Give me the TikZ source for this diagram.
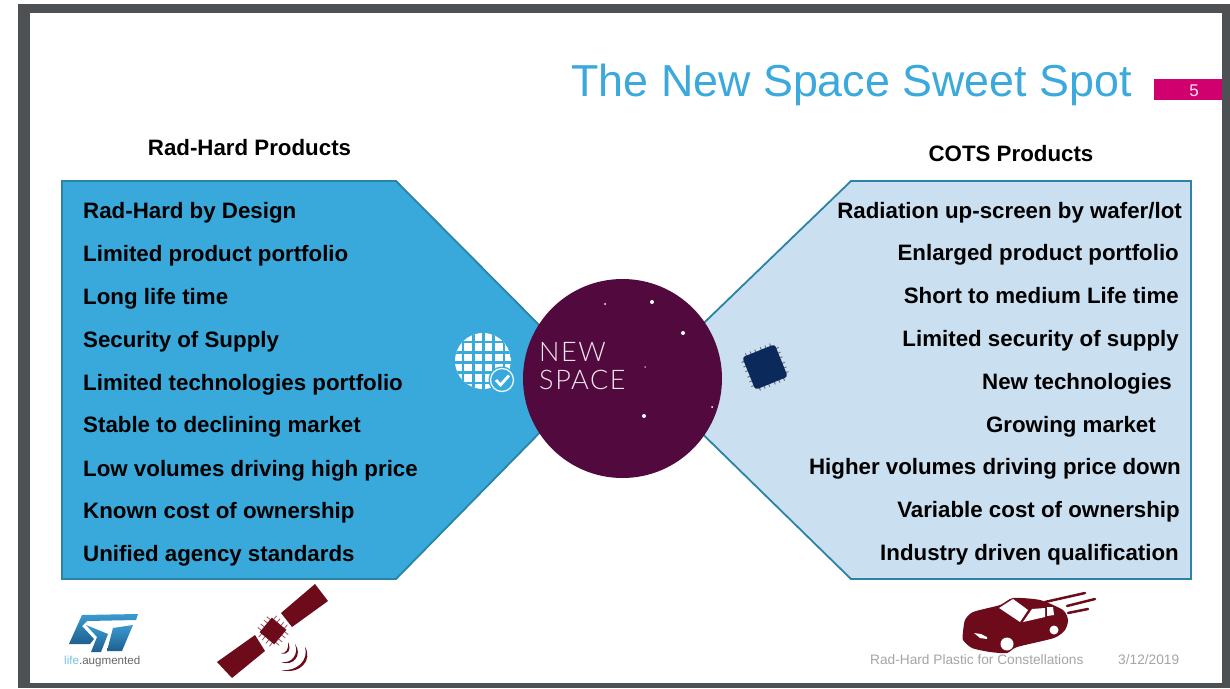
\documentclass[tikz,border=0pt]{standalone}
\usepackage{fontspec}
\setmainfont{Liberation Sans}
\newfontfamily\nsfont[LetterSpace=6]{Lato Light}
\definecolor{frame}{HTML}{4D5154}
\definecolor{blueL}{HTML}{39A9DC}
\definecolor{blueR}{HTML}{CADFF0}
\definecolor{edge}{HTML}{2B83A6}
\definecolor{plum}{HTML}{520A3E}
\definecolor{maroon}{HTML}{6E0B1A}
\definecolor{pinkbar}{HTML}{D0006F}
\definecolor{titleblue}{HTML}{3BA9DC}
\definecolor{footgray}{HTML}{A5A5A5}
\definecolor{navy}{HTML}{0B2A5B}
\definecolor{stdark}{HTML}{1F5F8F}
\definecolor{stlight}{HTML}{3A9BD0}
\tikzset{
  x=1pt,y=-1pt,
  ltxt/.style={anchor=base west,yshift=-8pt,inner sep=0pt,font=\fontsize{22.3}{24}\selectfont\bfseries,text=black},
  rtxt/.style={anchor=base east,yshift=-8pt,inner sep=0pt,font=\fontsize{22.3}{24}\selectfont\bfseries,text=black},
  head/.style={anchor=base,yshift=-8pt,inner sep=0pt,font=\fontsize{22.3}{24}\selectfont\bfseries,text=black},
  foot/.style={anchor=west,inner sep=0pt,font=\fontsize{13.7}{15}\selectfont,text=footgray},
  panel/.style={draw=edge,line width=1.8pt,line join=miter},
  star/.style={circle,fill=white,inner sep=0pt},
}
\begin{document}
\begin{tikzpicture}
\useasboundingbox (0,0) rectangle (1230,688);
\fill[white] (0,0) rectangle (1230,688);
\fill[frame] (18,4) rectangle (1230,688);
\fill[white] (30,13) rectangle (1222,683);
% panels
\draw[panel,fill=blueL] (62,181) -- (396,181) -- (560,346) -- (560,412) -- (396,579) -- (62,579) -- cycle;
\draw[panel,fill=blueR] (1191,181) -- (851,181) -- (680,346) -- (680,412) -- (851,579) -- (1191,579) -- cycle;
% circle
\node[circle,fill=plum,minimum size=199pt,inner sep=0pt] (ns) at (622.5,378.5) {};
\node[anchor=west,inner sep=0pt,align=left,text=white!90!plum,font=\nsfont\fontsize{27}{28}\selectfont] (nstxt) at (539,366) {NEW\\[-0.5pt]SPACE};
\node[star,minimum size=4pt] (s1) at (652,302) {};
\node[star,minimum size=2pt] (s2) at (605,304) {};
\node[star,minimum size=4pt] (s3) at (683,333) {};
\node[star,minimum size=1.5pt] (s4) at (645,367) {};
\node[star,minimum size=4pt] (s5) at (644,416) {};
\node[star,minimum size=2pt] (s6) at (712,407) {};
% title
\node[anchor=east,inner sep=0pt,text=titleblue,font=\fontsize{44.8}{50}\selectfont] (title) at (1132,85) {The New Space Sweet Spot};
\fill[pinkbar] (1154,79) rectangle (1222,100);
\node[anchor=center,inner sep=0pt,text=white!90!pinkbar,font=\fontsize{17}{18}\selectfont] (num) at (1194,91) {5};
% headings
\node[head] (hl) at (249.5,147) {Rad-Hard Products};
\node[head] (hr) at (1011,153) {COTS Products};
% left list
\node[ltxt] (l1) at (83,210) {Rad-Hard by Design};
\node[ltxt] (l2) at (83,253) {Limited product portfolio};
\node[ltxt] (l3) at (83,296) {Long life time};
\node[ltxt] (l4) at (83,339) {Security of Supply};
\node[ltxt] (l5) at (83,382) {Limited technologies portfolio};
\node[ltxt] (l6) at (83,424) {Stable to declining market};
\node[ltxt] (l7) at (83,468) {Low volumes driving high price};
\node[ltxt] (l8) at (83,510) {Known cost of ownership};
\node[ltxt] (l9) at (83,553) {Unified agency standards};
% right list
\node[rtxt] (r1) at (1182,210) {Radiation up-screen by wafer/lot};
\node[rtxt] (r2) at (1179,252.5) {Enlarged product portfolio};
\node[rtxt] (r3) at (1179,295) {Short to medium Life time};
\node[rtxt] (r4) at (1179,338) {Limited security of supply};
\node[rtxt] (r5) at (1172,381) {New technologies};
\node[rtxt] (r6) at (1156,424) {Growing market};
\node[rtxt] (r7) at (1181,466) {Higher volumes driving price down};
\node[rtxt] (r8) at (1180,509) {Variable cost of ownership};
\node[rtxt] (r9) at (1179,552) {Industry driven qualification};
% wafer icon
\begin{scope}
\clip (483,361) circle (28);
\fill[white] (483,361) circle (28);
\foreach \k in {0,...,6}{
  \draw[blueL,line width=2.6pt] (452.9+\k*10.2,330) -- (452.9+\k*10.2,392);
  \draw[blueL,line width=2.6pt] (450,331.9+\k*10.2) -- (516,331.9+\k*10.2);
}
\end{scope}
\fill[blueL] (502,380) circle (13.5);
\draw[white!90!blueL,line width=1.3pt] (502,380) circle (11.5);
\draw[white,line width=2.8pt] (496,380) -- (500.5,385) -- (509,375.5);
% chip icon
\begin{scope}[shift={(765,367)},rotate=22]
\foreach \k in {-13,-8,-3,3,8,13}{
  \draw[black!60,line width=0.9pt] (\k,-20) -- (\k,20);
  \draw[black!60,line width=0.9pt] (-20,\k) -- (20,\k);
}
\fill[navy,rounded corners=3pt] (-17.5,-17.5) rectangle (17.5,17.5);
\end{scope}
% ST logo
\shade[bottom color=stdark,top color=stlight] (82,615) -- (138,614) -- (136,620) -- (87,621) -- (82,626) -- (94,639) -- (90,644) -- (69,644) -- cycle;
\shade[bottom color=stdark,top color=stlight] (86,625) -- (108,634) -- (101,652) -- (91,652) -- (97,637) -- cycle;
\shade[bottom color=stdark,top color=stlight] (113,628) -- (133,625) -- (122,651) -- (107,651) -- cycle;
\node[anchor=west,inner sep=0pt,font=\fontsize{11.6}{13}\selectfont,text=black!60] (st) at (64,661) {\textcolor{blueL!70}{life}.augmented};
% satellite
\fill[maroon] (315,584) -- (328,601) -- (292,627) -- (281,613) -- cycle;
\fill[maroon] (255,635) -- (265,651) -- (232,678) -- (217,662) -- cycle;
\begin{scope}[shift={(273,631)},rotate=-40]
\foreach \k in {-7,-2.5,2.5,7}{
  \draw[maroon!70,line width=0.8pt] (\k,-14) -- (\k,14);
  \draw[maroon!70,line width=0.8pt] (-14,\k) -- (14,\k);
}
\fill[maroon] (-9.5,-9.5) rectangle (9.5,9.5);
\end{scope}
\fill[maroon] (305,647) .. controls (313,660) and (300,675) .. (281,670) .. controls (297,672) and (309,660) .. cycle;
\fill[maroon] (295,644) .. controls (303,655) and (293,667) .. (281,662) .. controls (292,664) and (299,654) .. cycle;
\fill[maroon] (288,642) .. controls (292,650) and (287,656) .. (281,653) .. controls (286,654) and (289,649) .. cycle;
% car
\fill[maroon] plot[smooth cycle,tension=0.4] coordinates {(963,632) (965,620) (973,612) (1000,605) (1013,598) (1040,600) (1063,610) (1068,620) (1065,630) (1054,638) (1017,647) (1007,653) (990,652) (972,648) (963,640)};
\fill[white] (999,608) -- (1013,599) -- (1028,610) -- (1020,622) -- cycle;
\fill[white] (1023,622) -- (1032,609) -- (1045,608) -- (1045,617) -- cycle;
\fill[white] (1047,607) -- (1053,607) -- (1054,615) -- (1047,616) -- cycle;
\fill[white] (974,633) -- (981,634) -- (987,637) -- (987,639) -- (980,638) -- cycle;
\fill[white] (1007,644) circle (6.5);
\fill[white] (1054,630) circle (4.5);
\draw[maroon,line width=2.5pt,line cap=round] (1045,602) -- (1085,593);
\draw[maroon,line width=2.5pt,line cap=round] (1067,606) -- (1095,599);
\draw[maroon,line width=2.5pt,line cap=round] (1068,613) -- (1088,609);
% footer
\node[foot] (f1) at (870,660) {Rad-Hard Plastic for Constellations};
\node[foot] (f2) at (1118,660) {3/12/2019};
\end{tikzpicture}
\end{document}
